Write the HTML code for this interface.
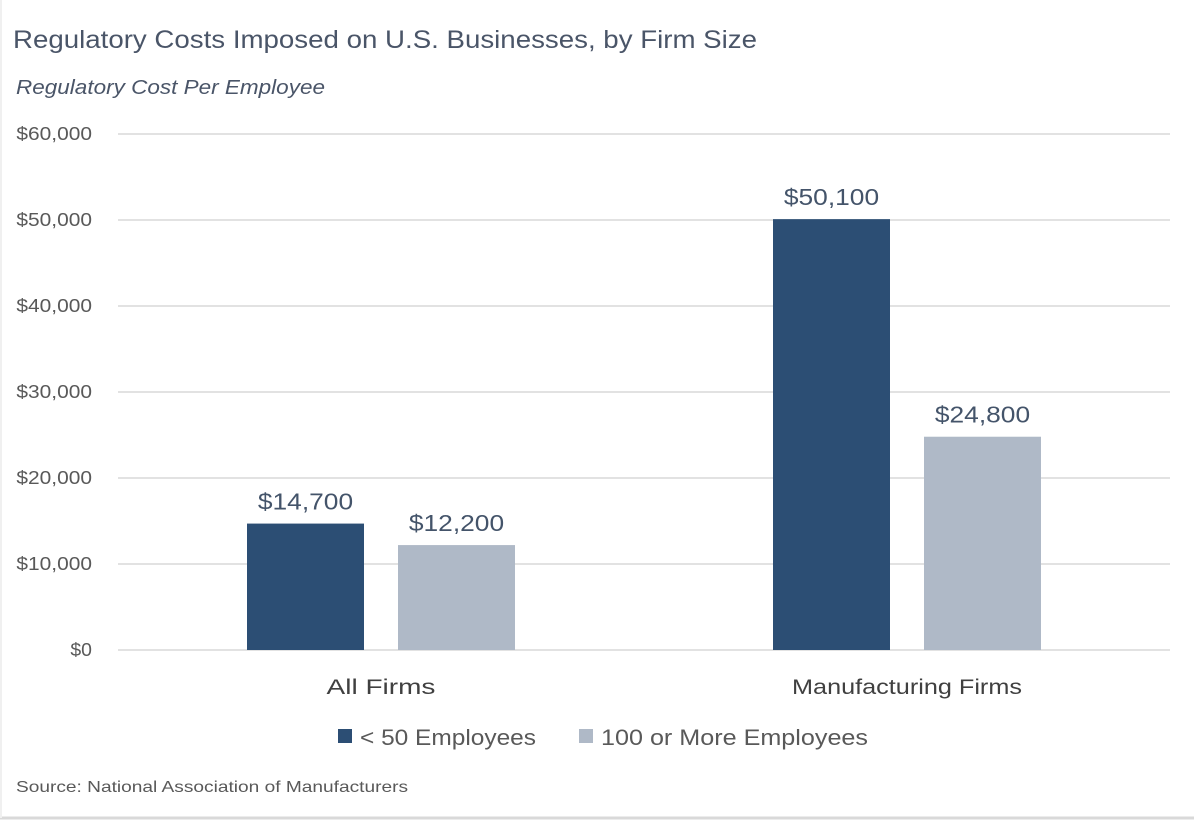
<!DOCTYPE html>
<html><head><meta charset="utf-8"><style>
body{margin:0;background:#fff;}
svg{display:block;font-family:"Liberation Sans",sans-serif;}
</style></head><body>
<svg id="c" width="1194" height="822" viewBox="0 0 1194 822">
<rect x="0" y="0" width="1194" height="822" fill="#fff"/>
<line x1="0" y1="818" x2="1194" y2="818" stroke="#d9d9d9" stroke-width="3"/>
<line x1="1" y1="0" x2="1" y2="818" stroke="#f0f0f0" stroke-width="2"/>
<text x="13" y="48" font-size="25" fill="#4a5568" textLength="744" lengthAdjust="spacingAndGlyphs">Regulatory Costs Imposed on U.S. Businesses, by Firm Size</text>
<text x="16" y="94" font-size="20" font-style="italic" fill="#4a5568" textLength="309" lengthAdjust="spacingAndGlyphs">Regulatory Cost Per Employee</text>
<g id="grid"></g><g id="bars"></g>
<text x="16" y="792" font-size="16" fill="#595959" textLength="392" lengthAdjust="spacingAndGlyphs">Source: National Association of Manufacturers</text>
<g>
<rect x="338" y="729" width="14" height="14" fill="#2c4e74"/>
<text x="360" y="745" font-size="22" fill="#595959" textLength="176" lengthAdjust="spacingAndGlyphs">&lt; 50 Employees</text>
<rect x="579" y="729" width="14" height="14" fill="#afb9c7"/>
<text x="601" y="745" font-size="22" fill="#595959" textLength="267" lengthAdjust="spacingAndGlyphs">100 or More Employees</text>
</g>
</svg>
<script>
const categories=["All Firms","Manufacturing Firms"];
const smallFirms=[14700,50100];
const largeFirms=[12200,24800];
const ticks=[0,10000,20000,30000,40000,50000,60000];
const NS="http://www.w3.org/2000/svg";
const x0=118,x1=1170,yTop=134,yBot=650,yMax=60000;
const y=v=>yBot-(v/yMax)*(yBot-yTop);
const band=(x1-x0)/categories.length;
const fmt=v=>"$"+v.toLocaleString("en-US");
function mk(tag,attrs,parent){const e=document.createElementNS(NS,tag);for(const k in attrs)e.setAttribute(k,attrs[k]);parent.appendChild(e);return e;}
const grid=document.getElementById("grid"),bars=document.getElementById("bars");
ticks.forEach(t=>{
 const l=mk("line",{x1:x0,x2:x1,y1:y(t),y2:y(t),stroke:"#d9d9d9","stroke-width":1.5},grid);
 
 
 const s=fmt(t);
 const tx=mk("text",{x:92,y:y(t)+6,"text-anchor":"end","font-size":18,fill:"#595959",textLength:s.length*10.8,lengthAdjust:"spacingAndGlyphs"},grid);
 tx.textContent=s;
 
 
});
const bw=117,gap=34;
categories.forEach((c,i)=>{
 const cx=x0+band*(i+0.5);
 [[smallFirms[i],"#2c4e74",cx-gap/2-bw,"bar-small"],[largeFirms[i],"#afb9c7",cx+gap/2,"bar-large"]].forEach(([v,col,bx,nm])=>{
  const r=mk("rect",{x:bx,y:y(v),width:bw,height:yBot-y(v),fill:col},bars);
  
  
  const s=fmt(v);
  const t=mk("text",{x:bx+bw/2,y:y(v)-14,"text-anchor":"middle","font-size":23,fill:"#44546a",textLength:s.length*13.6,lengthAdjust:"spacingAndGlyphs"},bars);
  t.textContent=s;
  
  
 });
 const cl=mk("text",{x:cx,y:694,"text-anchor":"middle","font-size":21,fill:"#404040",textLength:c.length*12.1,lengthAdjust:"spacingAndGlyphs"},bars);
 cl.textContent=c;
 
 
});
</script>
</body></html>
